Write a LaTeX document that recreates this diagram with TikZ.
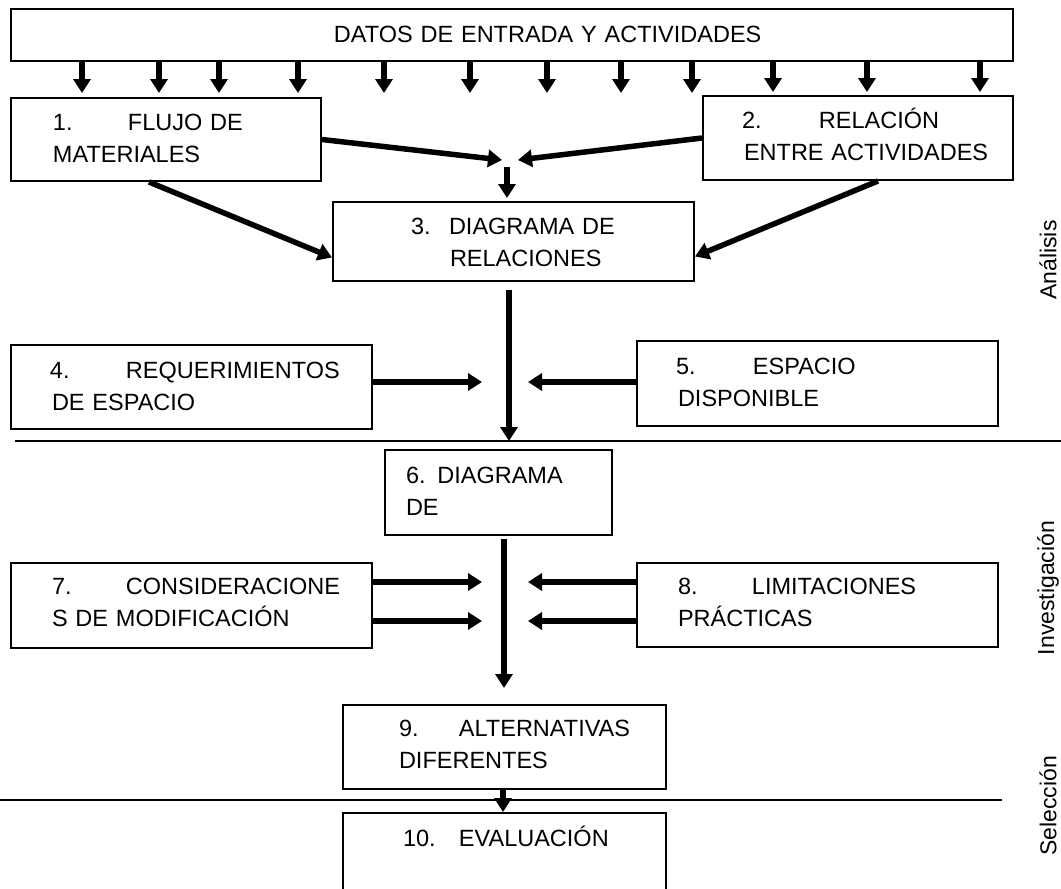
\documentclass[tikz,border=0pt]{standalone}
\usepackage{fontspec}
\setmainfont{Liberation Sans}
\usetikzlibrary{arrows.meta,calc}

\begin{document}
\begin{tikzpicture}[x=1pt,y=-1pt,
  every node/.style={font=\fontsize{23.5}{32}\selectfont},
  box/.style={draw, line width=2pt, anchor=north west, inner sep=0pt, align=left},
  arr/.style={line width=5.5pt, -{Triangle[width=17pt,length=14pt]}},
  sep/.style={line width=1.5pt},
  phase/.style={rotate=90, font=\fontsize{23}{26}\selectfont}]
\useasboundingbox (0,0) rectangle (1061,889);
\clip (0,0) rectangle (1061,889);

% boxes of the procedure
\node[box, text width=1002pt, text height=33pt, text depth=19pt] (top) at (10,8)
  {\hspace*{323pt}DATOS DE ENTRADA Y ACTIVIDADES};
\node[box, text width=310pt, text height=32pt, text depth=51pt] (b1) at (10,97)
  {\hspace*{42pt}\makebox[75pt][l]{1.}FLUJO DE\\\hspace*{42pt}MATERIALES};
\node[box, text width=310pt, text height=32pt, text depth=52pt] (b2) at (702,95)
  {\hspace*{39pt}\makebox[77pt][l]{2.}RELACIÓN\\\hspace*{41pt}ENTRE ACTIVIDADES};
\node[box, text width=361pt, text height=32pt, text depth=47pt] (b3) at (332,201)
  {\hspace*{78pt}\makebox[38pt][l]{3.}DIAGRAMA DE\\\hspace*{117pt}RELACIONES};
\node[box, text width=361pt, text height=33pt, text depth=51pt] (b4) at (10,344)
  {\hspace*{39pt}\makebox[76pt][l]{4.}REQUERIMIENTOS\\\hspace*{41pt}DE ESPACIO};
\node[box, text width=361pt, text height=33pt, text depth=52pt] (b5) at (636,340)
  {\hspace*{39pt}\makebox[77pt][l]{5.}ESPACIO\\\hspace*{41pt}DISPONIBLE};
\node[box, text width=227pt, text height=33pt, text depth=52pt] (b6) at (384,449)
  {\hspace*{21pt}6. DIAGRAMA\\\hspace*{21pt}DE};
\node[box, text width=361pt, text height=31pt, text depth=54pt] (b7) at (10,562)
  {\hspace*{41pt}\makebox[74pt][l]{7.}CONSIDERACIONE\\\hspace*{41pt}S DE MODIFICACIÓN};
\node[box, text width=361pt, text height=31pt, text depth=53pt] (b8) at (636,562)
  {\hspace*{41pt}\makebox[74pt][l]{8.}LIMITACIONES\\\hspace*{41pt}PRÁCTICAS};
\node[box, text width=323pt, text height=31pt, text depth=53pt] (b9) at (342,704)
  {\hspace*{56pt}\makebox[60pt][l]{9.}ALTERNATIVAS\\\hspace*{56pt}DIFERENTES};
\node[box, text width=323pt, text height=33pt, text depth=100pt] (b10) at (342,812)
  {\hspace*{60pt}\makebox[56pt][l]{10.}EVALUACIÓN};

% phase separators and names
\coordinate (s1l) at (15,441);  \coordinate (s1r) at (1061,441);
\coordinate (s2l) at (0,800);   \coordinate (s2r) at (1002,800);
\draw[sep] (s1l) -- (s1r);
\draw[sep] (s2l) -- (s2r);
\node[phase] (an)  at (1048,260) {Análisis};
\node[phase] (inv) at (1048,588) {Investigación};
\node[phase] (sel) at (1048,806) {Selección};

% input arrows from the top box
\foreach \x [count=\i] in {82,159,219,298,384,470,547,621,692,773,867,980}
  \coordinate (ta\i) at (\x,93);
\foreach \i in {1,...,4}
  \draw[arr, shorten >=4pt] (top.south -| ta\i) -- (b1.north -| ta\i);
\foreach \i in {5,...,9}
  \draw[arr] (top.south -| ta\i) -- (ta\i);
\foreach \i in {10,11,12}
  \draw[arr, shorten >=3pt] (top.south -| ta\i) -- (b2.north -| ta\i);

% flows into the relationship diagram
\coordinate (m1) at (502,160);
\coordinate (m2) at (518,160);
\coordinate (m3) at (507,167);
\draw[arr] (b1.east) -- (m1);
\draw[arr] (b2.west) -- (m2);
\draw[arr, shorten >=3pt] (m3) -- (m3 |- b3.north);
\draw[arr] ($(b1.south)+(-17,0)$) -- ($(b3.west)+(0,16)$);
\draw[arr] ($(b2.south)+(20,0)$) -- ($(b3.east)+(0,15)$);

% main flow
\coordinate (v1) at (509,0);
\coordinate (v2) at (504,0);
\coordinate (v3) at (503,0);
\draw[arr, shorten <=8pt, shorten >=8pt] (b3.south -| v1) -- (b6.north -| v1);
\draw[arr, shorten <=3pt, shorten >=16pt] (b6.south -| v2) -- (b9.north -| v2);
\draw[arr] (b9.south -| v3) -- (b10.north -| v3);

% side inputs
\coordinate (h1) at (482,382);
\coordinate (h2) at (528,382);
\coordinate (h3) at (482,582);
\coordinate (h4) at (482,621);
\coordinate (h5) at (528,582);
\coordinate (h6) at (528,621);
\draw[arr] (b4.east |- h1) -- (h1);
\draw[arr] (b5.west |- h2) -- (h2);
\draw[arr] (b7.east |- h3) -- (h3);
\draw[arr] (b7.east |- h4) -- (h4);
\draw[arr] (b8.west |- h5) -- (h5);
\draw[arr] (b8.west |- h6) -- (h6);
\end{tikzpicture}
\end{document}
